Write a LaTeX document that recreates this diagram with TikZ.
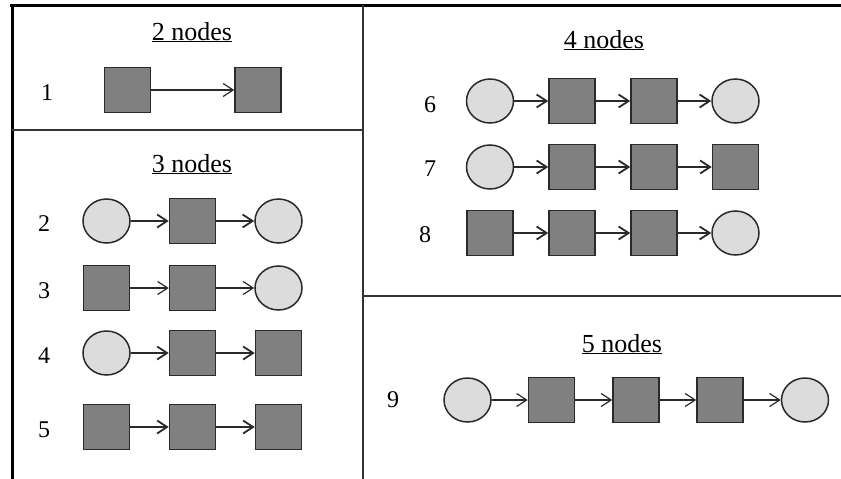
\documentclass[tikz,border=0pt]{standalone}
\usepackage{fontspec}
\setmainfont{Liberation Serif}
\usetikzlibrary{shapes.geometric,arrows.meta}
\definecolor{sqfill}{HTML}{808080}
\definecolor{cifill}{HTML}{DCDCDC}
\definecolor{edge}{HTML}{2A2A2A}
\begin{document}
\begin{tikzpicture}[x=1pt,y=-1pt,
  sq/.style={draw=edge,line width=1.5pt,fill=sqfill,minimum width=46pt,minimum height=45pt,inner sep=0pt},
  ci/.style={ellipse,draw=edge,line width=1.5pt,fill=cifill,minimum width=47pt,minimum height=44pt,inner sep=0pt},
  arr/.style={draw=edge,line width=1.8pt,-{Straight Barb[length=10pt,width=13pt]}},
  thinarr/.style={arr,line width=1.2pt},
  title/.style={font=\fontsize{26}{30}\selectfont,anchor=base,inner sep=0pt},
  lab/.style={font=\fontsize{24}{28}\selectfont,inner sep=0pt},
  frame/.style={draw=black,line width=3pt},
  divider/.style={draw=black!80,line width=1.5pt}]
\useasboundingbox (0,0) rectangle (841,479);
% frame
\draw[frame] (10,5) -- (841,5);
\draw[frame] (12,5) -- (12,479);
\draw[divider,line width=2pt] (363,5) -- (363,479);
\draw[divider] (12,130) -- (363,130);
\draw[divider] (363,296) -- (841,296);
% titles
\node[title] (t2) at (192,40) {\underline{2 nodes}};
\node[title] (t3) at (192,172) {\underline{3 nodes}};
\node[title] (t4) at (604,48) {\underline{4 nodes}};
\node[title] (t5) at (622,352) {\underline{5 nodes}};
% row 1
\node[lab] (l1) at (47,93) {1};
\node[sq] (a1) at (127.5,90) {};
\node[sq] (a2) at (258,90) {};
\draw[thinarr] (a1) -- (a2);
% row 2
\node[lab] (l2) at (44,224) {2};
\node[ci] (b1) at (106.5,221) {};
\node[sq] (b2) at (192.5,221) {};
\node[ci] (b3) at (278.5,221) {};
\draw[arr] (b1) -- (b2);
\draw[arr] (b2) -- (b3);
% row 3
\node[lab] (l3) at (44,291) {3};
\node[sq] (c1) at (106.5,288) {};
\node[sq] (c2) at (192.5,288) {};
\node[ci] (c3) at (278.5,288) {};
\draw[thinarr] (c1) -- (c2);
\draw[thinarr] (c2) -- (c3);
% row 4
\node[lab] (l4) at (44,356) {4};
\node[ci] (d1) at (106.5,353) {};
\node[sq] (d2) at (192.5,353) {};
\node[sq] (d3) at (278.5,353) {};
\draw[arr] (d1) -- (d2);
\draw[arr] (d2) -- (d3);
% row 5
\node[lab] (l5) at (44,430) {5};
\node[sq] (e1) at (106.5,427) {};
\node[sq] (e2) at (192.5,427) {};
\node[sq] (e3) at (278.5,427) {};
\draw[arr] (e1) -- (e2);
\draw[arr] (e2) -- (e3);
% row 6
\node[lab] (l6) at (430,105) {6};
\node[ci] (f1) at (490,101) {};
\node[sq] (f2) at (572,101) {};
\node[sq] (f3) at (654,101) {};
\node[ci] (f4) at (735.5,101) {};
\draw[arr] (f1) -- (f2);
\draw[arr] (f2) -- (f3);
\draw[arr] (f3) -- (f4);
% row 7
\node[lab] (l7) at (430,169) {7};
\node[ci] (g1) at (490,167) {};
\node[sq] (g2) at (572,167) {};
\node[sq] (g3) at (654,167) {};
\node[sq] (g4) at (735.5,167) {};
\draw[arr] (g1) -- (g2);
\draw[arr] (g2) -- (g3);
\draw[arr] (g3) -- (g4);
% row 8
\node[lab] (l8) at (425,235) {8};
\node[sq] (h1) at (490,233) {};
\node[sq] (h2) at (572,233) {};
\node[sq] (h3) at (654,233) {};
\node[ci] (h4) at (735.5,233) {};
\draw[arr] (h1) -- (h2);
\draw[arr] (h2) -- (h3);
\draw[arr] (h3) -- (h4);
% row 9
\node[lab] (l9) at (393,400) {9};
\node[ci] (i1) at (467.5,400) {};
\node[sq] (i2) at (551.5,400) {};
\node[sq] (i3) at (636,400) {};
\node[sq] (i4) at (720,400) {};
\node[ci] (i5) at (805,400) {};
\draw[thinarr] (i1) -- (i2);
\draw[thinarr] (i2) -- (i3);
\draw[thinarr] (i3) -- (i4);
\draw[thinarr] (i4) -- (i5);
\end{tikzpicture}
\end{document}
